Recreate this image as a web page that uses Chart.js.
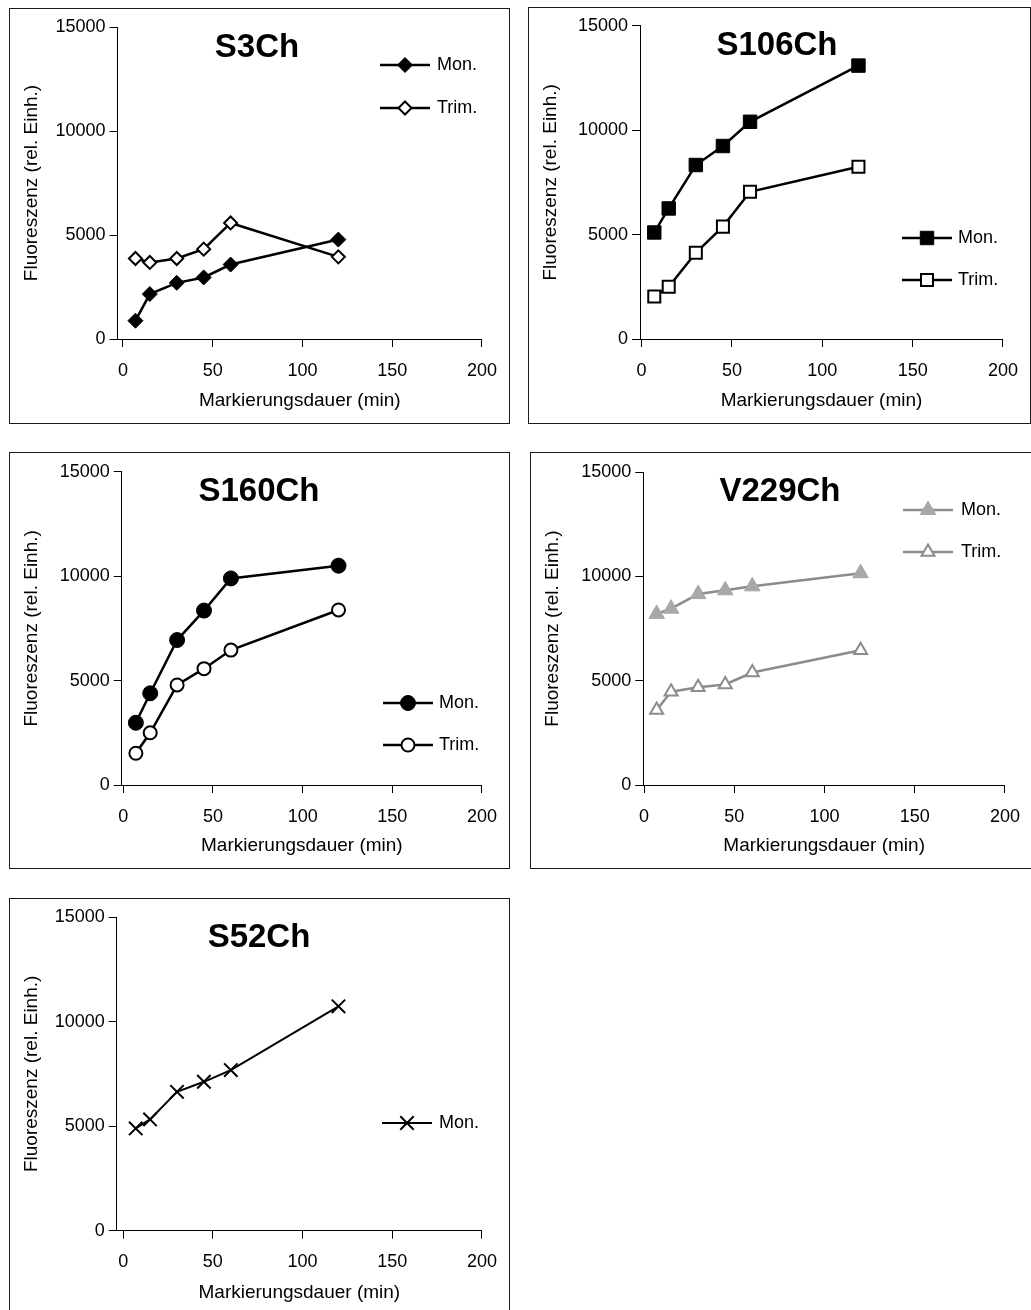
<!DOCTYPE html>
<html>
<head>
<meta charset="utf-8">
<title>Markierungsdauer</title>
<script src="https://cdn.jsdelivr.net/npm/chart.js@4.4.1/dist/chart.umd.min.js"></script>
<style>
    html, body { margin: 0; padding: 0; background: #fff; }
    body { width: 1031px; height: 1310px; position: relative; overflow: hidden; }
    .box { position: absolute; border: 1px solid #1a1a1a; box-sizing: border-box; }
    canvas { position: absolute; }
</style>
</head>
<body>
<script>
/* ----------------------------------------------------------
   DATA
---------------------------------------------------------- */
const timesMin = [7, 15, 30, 45, 60, 120];

const s3Mon    = [880, 2160, 2700, 2960, 3580, 4780];
const s3Trim   = [3870, 3680, 3870, 4320, 5580, 3950];

const s106Mon  = [5100, 6250, 8330, 9240, 10400, 13090];
const s106Trim = [2030, 2500, 4130, 5380, 7050, 8250];

const s160Mon  = [2980, 4390, 6940, 8350, 9890, 10500];
const s160Trim = [1520, 2500, 4790, 5570, 6460, 8380];

const v229Mon  = [8200, 8450, 9150, 9330, 9520, 10150];
const v229Trim = [3590, 4470, 4680, 4820, 5390, 6460];

const s52Mon   = [4890, 5320, 6640, 7120, 7680, 10730];

const xTicks = [0, 50, 100, 150, 200];
const yTicks = [0, 5000, 10000, 15000];

const xTitle = 'Markierungsdauer (min)';
const yTitle = 'Fluoreszenz (rel. Einh.)';

/* ----------------------------------------------------------
   LAYOUT / STYLE
---------------------------------------------------------- */
const FONT = 'Arial, "Liberation Sans", sans-serif';
const BLACK = '#000';
const GREY_LINE = '#8c8c8c';
const GREY_FILL = '#a8a8a8';

// box = [left, top, width, height] of the framed panel (page px)
// axisX / x200 = page x of the y-axis line and of x=200
// y15000 / y0  = page y of those values
const PANELS = [
    {
        title: 'S3Ch', box: [9, 8, 501, 416], axisX: 117.5, x200: 487, y15000: 27, y0: 339, xMin: -3,
        titlePos: [257, 48], legend: { x1: 380, x2: 430, tx: 437, rows: [65, 108] },
        series: [
            { label: 'Mon.',  data: s3Mon,  style: 'rectRot', r: 7.5, fill: BLACK, stroke: BLACK, bw: 1, line: BLACK, lw: 2.5 },
            { label: 'Trim.', data: s3Trim, style: 'rectRot', r: 6.5, fill: '#fff', stroke: BLACK, bw: 2, line: BLACK, lw: 2.5 }
        ]
    },
    {
        title: 'S106Ch', box: [528, 7, 503, 417], axisX: 640, x200: 1008, y15000: 25.7, y0: 339, xMin: -0.9,
        titlePos: [777, 46], legend: { x1: 902, x2: 952, tx: 958, rows: [238, 280] },
        series: [
            { label: 'Mon.',  data: s106Mon,  style: 'rect', r: 9.5, fill: BLACK, stroke: BLACK, bw: 1, line: BLACK, lw: 2.5 },
            { label: 'Trim.', data: s106Trim, style: 'rect', r: 8.5, fill: '#fff', stroke: BLACK, bw: 2, line: BLACK, lw: 2.5 }
        ]
    },
    {
        title: 'S160Ch', box: [9, 452, 501, 417], axisX: 121.7, x200: 489.3, y15000: 471.7, y0: 785, xMin: -0.9,
        titlePos: [259, 492], legend: { x1: 383, x2: 433, tx: 439, rows: [703, 745] },
        series: [
            { label: 'Mon.',  data: s160Mon,  style: 'circle', r: 7.5, fill: BLACK, stroke: BLACK, bw: 1, line: BLACK, lw: 2.5 },
            { label: 'Trim.', data: s160Trim, style: 'circle', r: 6.5, fill: '#fff', stroke: BLACK, bw: 2, line: BLACK, lw: 2.5 }
        ]
    },
    {
        title: 'V229Ch', box: [530, 452, 503, 417], axisX: 643.3, x200: 1010, y15000: 472, y0: 785, xMin: -0.4,
        titlePos: [780, 492], legend: { x1: 903, x2: 953, tx: 961, rows: [510, 552] },
        series: [
            { label: 'Mon.',  data: v229Mon,  style: 'triangle', r: 9, fill: GREY_FILL, stroke: GREY_FILL, bw: 1, line: GREY_LINE, lw: 2.5 },
            { label: 'Trim.', data: v229Trim, style: 'triangle', r: 7.5, fill: '#fff', stroke: GREY_LINE, bw: 2, line: GREY_LINE, lw: 2.5 }
        ]
    },
    {
        title: 'S52Ch', box: [9, 898, 501, 418], axisX: 116.7, x200: 488.3, y15000: 917, y0: 1230.7, xMin: -3.6,
        titlePos: [259, 938], legend: { x1: 382, x2: 432, tx: 439, rows: [1123] },
        series: [
            { label: 'Mon.', data: s52Mon, style: 'crossRot', r: 9.5, fill: BLACK, stroke: BLACK, bw: 2, line: BLACK, lw: 2 }
        ]
    }
];

/* ----------------------------------------------------------
   PLUGIN: panel title + legend drawn at fixed spots
---------------------------------------------------------- */
const panelDecor = {
    id: 'panelDecor',
    afterDatasetsDraw(chart, args, opts) {
        const ctx = chart.ctx;
        const ox = opts.originX, oy = opts.originY;
        ctx.save();

        ctx.fillStyle = BLACK;
        ctx.font = 'bold 33px ' + FONT;
        ctx.textAlign = 'center';
        ctx.textBaseline = 'middle';
        ctx.fillText(opts.title, opts.titlePos[0] - ox, opts.titlePos[1] - oy);

        const lg = opts.legend;
        chart.data.datasets.forEach((ds, i) => {
            const y = lg.rows[i] - oy;
            ctx.strokeStyle = ds.borderColor;
            ctx.lineWidth = ds.borderWidth;
            ctx.beginPath();
            ctx.moveTo(lg.x1 - ox, y);
            ctx.lineTo(lg.x2 - ox, y);
            ctx.stroke();

            ctx.fillStyle = ds.pointBackgroundColor;
            ctx.strokeStyle = ds.pointBorderColor;
            ctx.lineWidth = ds.pointBorderWidth;
            Chart.helpers.drawPoint(ctx, {
                pointStyle: ds.pointStyle, rotation: 0,
                radius: ds.pointRadius, borderWidth: ds.pointBorderWidth
            }, (lg.x1 + lg.x2) / 2 - ox, y);

            ctx.fillStyle = BLACK;
            ctx.font = '18px ' + FONT;
            ctx.textAlign = 'left';
            ctx.textBaseline = 'middle';
            ctx.fillText(ds.label, lg.tx - ox, y);
        });
        ctx.restore();
    }
};

/* ----------------------------------------------------------
   BUILD
---------------------------------------------------------- */
function axisCommon() {
    return {
        grid: { drawOnChartArea: false, drawTicks: true, color: BLACK, lineWidth: 1 },
        border: { display: true, color: BLACK, width: 1 }
    };
}

const plainNumber = (v) => String(v);

function buildPanel(p) {
    const [bx, by, bw, bh] = p.box;

    const frame = document.createElement('div');
    frame.className = 'box';
    Object.assign(frame.style, { left: bx + 'px', top: by + 'px', width: bw + 'px', height: bh + 'px' });

    const canvas = document.createElement('canvas');
    canvas.width = bw;
    canvas.height = bh;
    Object.assign(canvas.style, { left: bx + 'px', top: by + 'px', width: bw + 'px', height: bh + 'px' });
    document.body.appendChild(canvas);
    document.body.appendChild(frame);

    const yScaleW = p.axisX - bx;
    const xScaleH = by + bh - p.y0;

    new Chart(canvas.getContext('2d'), {
        type: 'scatter',
        data: {
            datasets: p.series.map((s) => ({
                label: s.label,
                data: timesMin.map((t, i) => ({ x: t, y: s.data[i] })),
                showLine: true,
                tension: 0,
                fill: false,
                borderColor: s.line,
                borderWidth: s.lw,
                pointStyle: s.style,
                pointRadius: s.r,
                pointHoverRadius: s.r,
                pointBackgroundColor: s.fill,
                pointBorderColor: s.stroke,
                pointBorderWidth: s.bw,
                clip: false
            }))
        },
        options: {
            responsive: false,
            animation: false,
            devicePixelRatio: 1,
            layout: { padding: { left: 0, top: p.y15000 - by, right: bx + bw - p.x200, bottom: 0 } },
            plugins: {
                legend: { display: false },
                tooltip: { enabled: false },
                panelDecor: { originX: bx, originY: by, title: p.title, titlePos: p.titlePos, legend: p.legend }
            },
            scales: {
                x: Object.assign(axisCommon(), {
                    type: 'linear',
                    min: p.xMin,
                    max: 200,
                    afterBuildTicks: (scale) => { scale.ticks = xTicks.map((v) => ({ value: v })); },
                    afterFit: (scale) => { scale.height = xScaleH; },
                    ticks: { color: BLACK, font: { family: FONT, size: 18 }, padding: 13, maxRotation: 0, autoSkip: false, callback: plainNumber },
                    title: { display: true, text: xTitle, color: BLACK, font: { family: FONT, size: 19 }, padding: { top: 0, bottom: 12 } }
                }),
                y: Object.assign(axisCommon(), {
                    type: 'linear',
                    min: 0,
                    max: 15000,
                    afterBuildTicks: (scale) => { scale.ticks = yTicks.map((v) => ({ value: v })); },
                    afterFit: (scale) => { scale.width = yScaleW; },
                    ticks: { color: BLACK, font: { family: FONT, size: 18 }, padding: 4, callback: plainNumber },
                    title: { display: true, text: yTitle, color: BLACK, font: { family: FONT, size: 19 }, padding: { top: 11, bottom: 0 } }
                })
            }
        },
        plugins: [panelDecor]
    });
}

PANELS.forEach(buildPanel);
</script>
</body>
</html>
